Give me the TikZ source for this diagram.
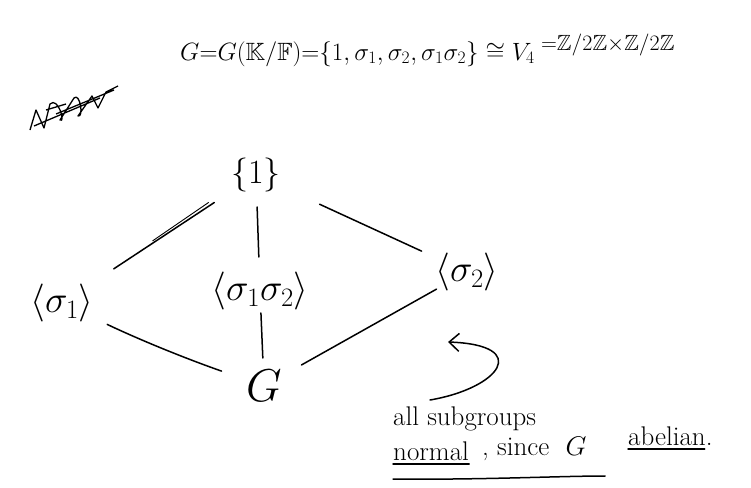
\RequirePackage{fix-cm}
\documentclass[tikz,border=0pt]{standalone}
\usepackage{amsmath,amssymb}
\usetikzlibrary{arrows.meta}
\begin{document}
\begin{tikzpicture}[x=1pt,y=-1pt,
  gruppo/.style={font=\fontsize{38}{42}\selectfont,inner sep=0pt},
  lato/.style={line width=1.5pt,line cap=round},
  nota/.style={font=\fontsize{27}{31}\selectfont,inner sep=0pt,anchor=base west}]
  \useasboundingbox (0,0) rectangle (751,487);
  % Intestazione: gruppo di Galois di K/F e suo tipo di isomorfismo.
  \node[anchor=base west,inner sep=0pt,font=\fontsize{25}{30}\selectfont] (titolo) at (180,60)
    {$G{=}G(\mathbb{K}/\mathbb{F}){=}\{1,\sigma_1,\sigma_2,\sigma_1\sigma_2\}\cong V_4$};
  \node[anchor=base west,inner sep=0pt,font=\fontsize{22}{26}\selectfont] (prodotto)
    at ([xshift=6pt,yshift=10pt]titolo.base east)
    {${=}\mathbb{Z}/2\mathbb{Z}{\times}\mathbb{Z}/2\mathbb{Z}$};
  % Parola cancellata a sinistra.
  \draw[line width=1.3pt,line join=round] (30,130) -- (36,110) -- (44,128) -- (50,104)
    .. controls (58,96) and (66,124) .. (60,120) -- (74,98) .. controls (80,92) and (84,118) .. (78,116)
    -- (92,96) -- (98,108) -- (106,92) -- (118,86) (34,126) -- (100,98) (56,114) -- (114,90)
    (46,110) -- (66,104);
  % Reticolo dei sottogruppi.
  \node[gruppo,font=\fontsize{34}{38}\selectfont] (banale) at (256,175) {$\{1\}$};
  \node[gruppo] (s1) at (62,303) {$\langle\sigma_1\rangle$};
  \node[gruppo] (s12) at (260,291) {$\langle\sigma_1\sigma_2\rangle$};
  \node[gruppo] (s2) at (467,272) {$\langle\sigma_2\rangle$};
  \node[gruppo,font=\fontsize{46}{50}\selectfont] (tutto) at (264,386) {$G$};
  \draw[lato,shorten <=50pt,shorten >=62pt] (banale.center) -- (s1.center);
  \draw[lato,line width=0.9pt,shorten <=54pt,shorten >=110pt] ([xshift=-3pt,yshift=3pt]banale.center) -- (s1.center);
  \draw[lato,shorten <=32pt,shorten >=34pt] (banale.center) -- (s12.center);
  \draw[lato,shorten <=70pt,shorten >=50pt] (banale.center) -- (s2.center);
  \draw[lato,shorten <=50pt,shorten >=45pt] (s1.center) to[bend right=3] (tutto.center);
  \draw[lato,shorten <=22pt,shorten >=28pt] (s12.center) -- (tutto.center);
  \draw[lato,shorten <=35pt,shorten >=43pt] (s2.center) -- (tutto.center);
  % Nota: tutti i sottogruppi sono normali.
  \node[nota] (riga) at (393,425) {all subgroups};
  \node[nota] (normale) at (393,460) {normal};
  \node[nota] (poiche) at (482,455) {, since\ \ $G$};
  \node[nota] (abeliano) at (628,445) {abelian.};
  \draw[lato] ([yshift=-4pt]normale.base west) -- ([yshift=-4pt]normale.base east);
  \draw[lato] ([yshift=-4pt]abeliano.base west) -- ([xshift=-8pt,yshift=-4pt]abeliano.base east);
  \draw[lato] ([yshift=-19pt]normale.base west) .. controls (480,480) and (560,476) .. (605,476);
  \coordinate (coda) at (430,400);
  \coordinate (punta) at (448,342);
  \draw[lato,-{Straight Barb[length=10pt,width=18pt]}] (coda)
    .. controls (500,388) and (532,345) .. (punta);
\end{tikzpicture}
\end{document}
